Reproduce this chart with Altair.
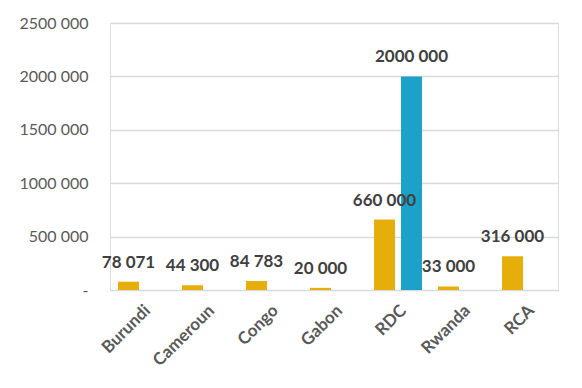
import altair as alt
import pandas as pd

countries = ["Burundi", "Cameroun", "Congo", "Gabon", "RDC", "Rwanda", "RCA"]
serie_a = [78071, 44300, 84783, 20000, 660000, 33000, 316000]
serie_b_country = ["RDC"]
serie_b = [2000000]
series_names = ["A", "B"]
colors = ["#E5AE0A", "#1CA2C8"]
y_ticks = [0, 500000, 1000000, 1500000, 2000000, 2500000]

rows = [{"pays": c, "serie": "A", "valeur": v} for c, v in zip(countries, serie_a)]
rows += [{"pays": c, "serie": "B", "valeur": v} for c, v in zip(serie_b_country, serie_b)]
df = pd.DataFrame(rows)

FONT = "Lato"

x = alt.X("pays:N", sort=countries, title=None,
          scale=alt.Scale(paddingInner=0, paddingOuter=0),
          axis=alt.Axis(labelAngle=-45, labelFontSize=17, labelFontWeight="bold",
                        labelColor="#595959", labelFont=FONT, ticks=False, domain=False,
                        labelPadding=12))
xo = alt.XOffset("serie:N", sort=series_names,
                 scale=alt.Scale(domain=series_names, paddingInner=0.222, paddingOuter=0.296))

base = alt.Chart(df).encode(x=x, xOffset=xo)

bars = base.mark_bar().encode(
    y=alt.Y("valeur:Q", title=None,
            scale=alt.Scale(domain=[0, 2500000], nice=False),
            axis=alt.Axis(values=y_ticks, labelFontSize=16, labelColor="#595959",
                          labelFont=FONT, ticks=False, domain=False, labelPadding=22,
                          gridColor="#D9D9D9", gridWidth=1.5,
                          labelExpr="datum.value == 0 ? '-' : slice(format(datum.value, 'd'), 0, -3) + ' ' + slice(format(datum.value, 'd'), -3)")),
    color=alt.Color("serie:N", scale=alt.Scale(domain=series_names, range=colors), legend=None),
)

labels = base.mark_text(baseline="alphabetic", dy=-14, fontSize=17, fontWeight="bold",
                        color="#404040", font=FONT).transform_calculate(
    lab="slice(format(datum.valeur, 'd'), 0, -3) + ' ' + slice(format(datum.valeur, 'd'), -3)"
).encode(
    y=alt.Y("valeur:Q"),
    text="lab:N",
)

chart = (bars + labels).properties(
    width=448, height=267,
    autosize=alt.AutoSizeParams(type="none"),
    padding={"left": 102, "top": 15, "right": 10, "bottom": 80},
).configure_view(stroke=None).configure(font=FONT)

chart.save("out.html", embed_options={"renderer": "svg", "actions": False})
